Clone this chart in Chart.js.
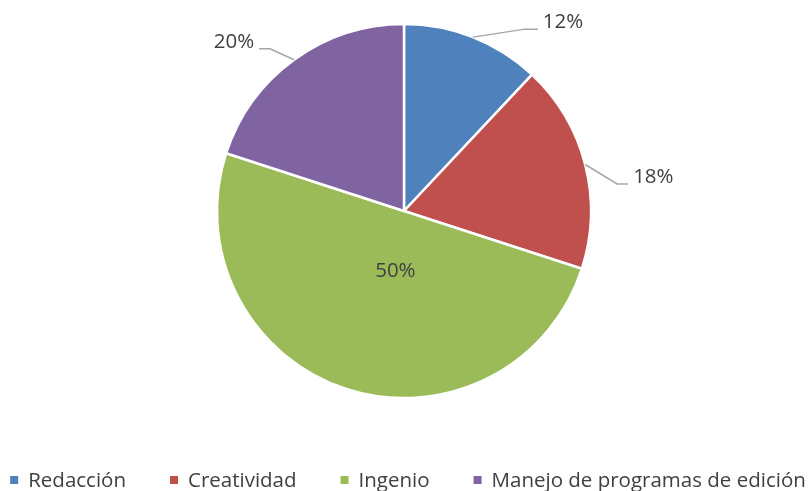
<!DOCTYPE html>
<html>
<head>
<meta charset="utf-8">
<script src="https://cdn.jsdelivr.net/npm/chart.js@4/dist/chart.umd.min.js"></script>
<style>
  html, body { margin: 0; padding: 0; background: #ffffff; }
  #wrap { width: 808px; height: 491px; position: relative; }
</style>
</head>
<body>
<div id="wrap"><canvas id="c" width="808" height="491"></canvas></div>
<script>
// ---- data ----
const categories = ['Redacción', 'Creatividad', 'Ingenio', 'Manejo de programas de edición'];
const values = [12, 18, 50, 20];
const valueLabels = ['12%', '18%', '50%', '20%'];
const colors = ['#4F81BD', '#C0504D', '#9BBB59', '#8064A2'];

// ---- label layout (style only) ----
const labelLayout = [
  { outside: true, elbow: [52, -8], end: [65, -8], align: 'left' },
  { outside: true, elbow: [32, 19.5], end: [43, 19.5], align: 'left' },
  { outside: false, frac: 0.34, shift: [11, 0] },
  { outside: true, elbow: [-24, -11], end: [-35, -11], align: 'right' }
];

const FONT = '"Open Sans", "Noto Sans", sans-serif';
const TEXT_COLOR = '#404040';

const pieLabels = {
  id: 'pieLabels',
  afterDatasetsDraw(chart) {
    const ctx = chart.ctx;
    const meta = chart.getDatasetMeta(0);
    ctx.save();
    ctx.font = '20.5px ' + FONT;
    ctx.fillStyle = TEXT_COLOR;
    ctx.textBaseline = 'middle';
    meta.data.forEach((arc, i) => {
      const p = arc.getProps(['x', 'y', 'startAngle', 'endAngle', 'outerRadius'], true);
      const mid = (p.startAngle + p.endAngle) / 2;
      const L = labelLayout[i];
      if (L.outside) {
        const ex = p.x + p.outerRadius * Math.cos(mid);
        const ey = p.y + p.outerRadius * Math.sin(mid);
        ctx.strokeStyle = '#A6A6A6';
        ctx.lineWidth = 1.5;
        ctx.beginPath();
        ctx.moveTo(ex, ey);
        ctx.lineTo(ex + L.elbow[0], ey + L.elbow[1]);
        ctx.lineTo(ex + L.end[0], ey + L.end[1]);
        ctx.stroke();
        ctx.textAlign = L.align;
        const tx = ex + L.end[0] + (L.align === 'left' ? 5 : -5);
        ctx.fillText(valueLabels[i], tx, ey + L.end[1] - 7);
      } else {
        const d = p.outerRadius * L.frac;
        const tx = p.x + d * Math.cos(mid) + L.shift[0];
        const ty = p.y + d * Math.sin(mid) + L.shift[1];
        ctx.textAlign = 'center';
        ctx.fillText(valueLabels[i], tx, ty);
      }
    });
    ctx.restore();
  }
};

const bottomLegend = {
  id: 'bottomLegend',
  afterDraw(chart) {
    const ctx = chart.ctx;
    ctx.save();
    ctx.font = '20.5px ' + FONT;
    ctx.textBaseline = 'middle';
    ctx.textAlign = 'left';
    const box = 8, boxGap = 10, itemGap = 44;
    const widths = categories.map(t => box + boxGap + ctx.measureText(t).width);
    const total = widths.reduce((a, b) => a + b, 0) + itemGap * (categories.length - 1);
    let x = (chart.width - total) / 2 + 4;
    const y = 480;
    categories.forEach((t, i) => {
      ctx.fillStyle = colors[i];
      ctx.fillRect(x, y - box / 2, box, box);
      ctx.fillStyle = TEXT_COLOR;
      ctx.fillText(t, x + box + boxGap, y + 1);
      x += widths[i] + itemGap;
    });
    ctx.restore();
  }
};

new Chart(document.getElementById('c'), {
  type: 'pie',
  data: {
    labels: categories,
    datasets: [{
      data: values,
      backgroundColor: colors,
      borderColor: '#ffffff',
      borderWidth: 2.5,
      radius: 187
    }]
  },
  options: {
    responsive: false,
    animation: false,
    layout: { padding: { top: 24, bottom: 93, left: 0, right: 0 } },
    plugins: {
      legend: { display: false },
      tooltip: { enabled: false }
    }
  },
  plugins: [pieLabels, bottomLegend]
});
</script>
</body>
</html>
